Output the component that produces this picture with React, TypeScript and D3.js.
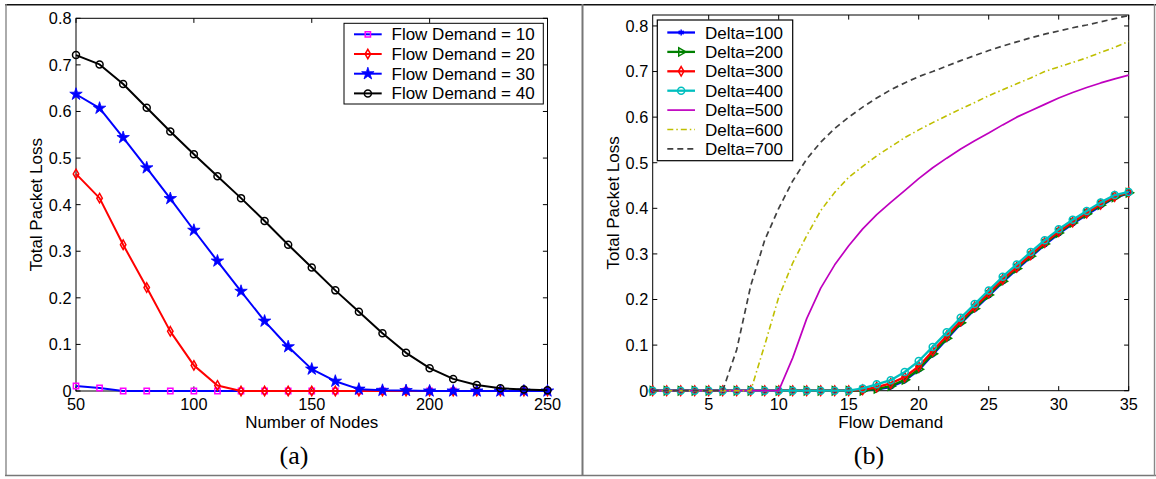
import React from "react";
import * as d3 from "d3";

// ---------- Data: panel (a) ----------
const nodes = [50, 60, 70, 80, 90, 100, 110, 120, 130, 140, 150, 160, 170, 180, 190, 200, 210, 220, 230, 240, 250];
const fd10 = [0.0107, 0.0064, 0, 0, 0, 0, 0, 0, 0, 0, 0, 0, 0, 0, 0, 0, 0, 0, 0, 0, 0];
const fd20 = [0.466, 0.414, 0.314, 0.222, 0.128, 0.055, 0.012, 0, 0, 0, 0, 0, 0, 0, 0, 0, 0, 0, 0, 0, 0];
const fd30 = [0.637, 0.607, 0.544, 0.479, 0.413, 0.345, 0.279, 0.214, 0.15, 0.095, 0.047, 0.021, 0.004, 0.0014, 0.001, 0, 0, 0, 0, 0, 0];
const fd40 = [0.721, 0.701, 0.659, 0.608, 0.557, 0.508, 0.461, 0.414, 0.365, 0.314, 0.265, 0.216, 0.17, 0.124, 0.082, 0.049, 0.026, 0.013, 0.006, 0.003, 0.0014];
const legendA = ["Flow Demand = 10", "Flow Demand = 20", "Flow Demand = 30", "Flow Demand = 40"];
const xTicksA = [50, 100, 150, 200, 250];
const yTicksA = [0, 0.1, 0.2, 0.3, 0.4, 0.5, 0.6, 0.7, 0.8];

// ---------- Data: panel (b) ----------
const flowDemand = [1, 2, 3, 4, 5, 6, 7, 8, 9, 10, 11, 12, 13, 14, 15, 16, 17, 18, 19, 20, 21, 22, 23, 24, 25, 26, 27, 28, 29, 30, 31, 32, 33, 34, 35];
const d100 = [0, 0, 0, 0, 0, 0, 0, 0, 0, 0, 0, 0, 0, 0, 0, 0, 0.003, 0.008, 0.022, 0.045, 0.079, 0.113, 0.147, 0.178, 0.208, 0.238, 0.266, 0.293, 0.32, 0.344, 0.366, 0.386, 0.405, 0.423, 0.433];
const d200 = [0, 0, 0, 0, 0, 0, 0, 0, 0, 0, 0, 0, 0, 0, 0, 0, 0.004, 0.01, 0.024, 0.047, 0.081, 0.115, 0.149, 0.18, 0.21, 0.24, 0.268, 0.295, 0.322, 0.346, 0.368, 0.388, 0.407, 0.424, 0.434];
const d300 = [0, 0, 0, 0, 0, 0, 0, 0, 0, 0, 0, 0, 0, 0, 0, 0.002, 0.008, 0.016, 0.03, 0.053, 0.087, 0.12, 0.153, 0.184, 0.214, 0.244, 0.271, 0.298, 0.325, 0.349, 0.37, 0.39, 0.409, 0.426, 0.435];
const d400 = [0, 0, 0, 0, 0, 0, 0, 0, 0, 0, 0, 0, 0, 0, 0, 0.005, 0.014, 0.023, 0.041, 0.065, 0.096, 0.128, 0.16, 0.19, 0.22, 0.25, 0.277, 0.304, 0.33, 0.354, 0.375, 0.394, 0.413, 0.429, 0.436];
const d500 = [0, 0, 0, 0, 0, 0, 0, 0, 0, 0, 0.072, 0.158, 0.225, 0.276, 0.318, 0.355, 0.386, 0.413, 0.439, 0.465, 0.489, 0.51, 0.53, 0.548, 0.565, 0.583, 0.6, 0.614, 0.628, 0.642, 0.654, 0.665, 0.675, 0.684, 0.692];
const d600 = [0, 0, 0, 0, 0, 0, 0, 0, 0.1, 0.205, 0.28, 0.34, 0.395, 0.435, 0.468, 0.492, 0.515, 0.535, 0.555, 0.572, 0.588, 0.603, 0.618, 0.632, 0.647, 0.66, 0.673, 0.686, 0.7, 0.71, 0.72, 0.73, 0.742, 0.753, 0.766];
const d700 = [0, 0, 0, 0, 0, 0, 0.09, 0.23, 0.33, 0.4, 0.46, 0.508, 0.545, 0.575, 0.6, 0.622, 0.642, 0.66, 0.675, 0.689, 0.7, 0.712, 0.724, 0.735, 0.746, 0.756, 0.765, 0.774, 0.782, 0.789, 0.796, 0.802, 0.809, 0.816, 0.823];
const legendB = ["Delta=100", "Delta=200", "Delta=300", "Delta=400", "Delta=500", "Delta=600", "Delta=700"];
const xTicksB = [5, 10, 15, 20, 25, 30, 35];
const yTicksB = [0, 0.1, 0.2, 0.3, 0.4, 0.5, 0.6, 0.7, 0.8];

const SANS = "'Liberation Sans', Arial, Helvetica, sans-serif";
const SERIF = "'Liberation Serif', 'Times New Roman', serif";
const TICK_FS = 16.3;
const LABEL_FS = 17;

type MarkerKind = "square" | "diamond" | "star" | "circle" | "asterisk" | "triangleRight" | "none";

function Marker({ kind, x, y, color }: { kind: MarkerKind; x: number; y: number; color: string }) {
  if (kind === "none") return null;
  if (kind === "circle") {
    return <circle cx={x} cy={y} r={3.5} fill="none" stroke={color} strokeWidth={1.5} />;
  }
  let path = "";
  let fill = "none";
  let sw = 1.5;
  let rot = 0;
  if (kind === "square") path = d3.symbol().type(d3.symbolSquare).size(28)() as string;
  if (kind === "diamond") path = d3.symbol().type(d3.symbolDiamond).size(26)() as string;
  if (kind === "star") {
    path = d3.symbol().type(d3.symbolStar).size(48)() as string;
    fill = color;
    sw = 0.8;
  }
  if (kind === "asterisk") path = d3.symbol().type(d3.symbolAsterisk).size(24)() as string;
  if (kind === "triangleRight") {
    path = d3.symbol().type(d3.symbolTriangle).size(30)() as string;
    rot = 90;
    sw = 1.5;
  }
  return (
    <path
      d={path}
      transform={`translate(${x},${y}) rotate(${rot})`}
      fill={fill}
      stroke={color}
      strokeWidth={sw}
    />
  );
}

function Frame({
  x0, x1, y0, y1, xs, ys, xTicks, yTicks, xFmt,
}: {
  x0: number; x1: number; y0: number; y1: number;
  xs: d3.ScaleLinear<number, number>; ys: d3.ScaleLinear<number, number>;
  xTicks: number[]; yTicks: number[]; xFmt: (v: number) => string;
}) {
  const tl = 4.6;
  return (
    <g>
      <rect x={x0} y={y0} width={x1 - x0} height={y1 - y0} fill="none" stroke="#000" strokeWidth={1} />
      {xTicks.map((t) => (
        <g key={"xt" + t}>
          <line x1={xs(t)} x2={xs(t)} y1={y1} y2={y1 - tl} stroke="#000" strokeWidth={1} />
          <line x1={xs(t)} x2={xs(t)} y1={y0} y2={y0 + tl} stroke="#000" strokeWidth={1} />
          <text x={xs(t)} y={y1 + 19.3} textAnchor="middle" fontFamily={SANS} fontSize={TICK_FS} fill="#000">
            {xFmt(t)}
          </text>
        </g>
      ))}
      {yTicks.map((t) => (
        <g key={"yt" + t}>
          <line x1={x0} x2={x0 + tl} y1={ys(t)} y2={ys(t)} stroke="#000" strokeWidth={1} />
          <line x1={x1} x2={x1 - tl} y1={ys(t)} y2={ys(t)} stroke="#000" strokeWidth={1} />
          <text x={x0 - 4.5} y={ys(t) + 5.9} textAnchor="end" fontFamily={SANS} fontSize={TICK_FS} fill="#000">
            {t === 0 ? "0" : d3.format(".1f")(t)}
          </text>
        </g>
      ))}
    </g>
  );
}

export default function App() {
  // Panel (a) scales
  const ax0 = 76, ax1 = 547.5, ay0 = 18.3, ay1 = 391;
  const xA = d3.scaleLinear().domain([50, 250]).range([ax0, ax1]);
  const yA = d3.scaleLinear().domain([0, 0.8]).range([ay1, ay0]);

  // Panel (b) scales
  const bx0 = 652.7, bx1 = 1128.7, by0 = 15, by1 = 390.7;
  const xB = d3.scaleLinear().domain([1, 35]).range([bx0, bx1]);
  const yB = d3.scaleLinear().domain([0, 0.824]).range([by1, by0]);

  const lineA = d3.line<number>().x((_, i) => xA(nodes[i])).y((d) => yA(d));
  const lineB = d3.line<number>().x((_, i) => xB(flowDemand[i])).y((d) => yB(d));

  const seriesA = [
    { data: fd10, line: "#0000ff", mk: "#ff00ff", kind: "square" as MarkerKind },
    { data: fd20, line: "#ff0000", mk: "#ff0000", kind: "diamond" as MarkerKind },
    { data: fd30, line: "#0000ff", mk: "#0000ff", kind: "star" as MarkerKind },
    { data: fd40, line: "#000000", mk: "#000000", kind: "circle" as MarkerKind },
  ];

  const seriesB = [
    { data: d100, color: "#0000ff", kind: "asterisk" as MarkerKind, w: 2.3, dash: "" },
    { data: d200, color: "#008000", kind: "triangleRight" as MarkerKind, w: 2.3, dash: "" },
    { data: d300, color: "#ff0000", kind: "diamond" as MarkerKind, w: 2.3, dash: "" },
    { data: d400, color: "#00bfbf", kind: "circle" as MarkerKind, w: 2.3, dash: "" },
    { data: d500, color: "#bf00bf", kind: "none" as MarkerKind, w: 1.7, dash: "" },
    { data: d600, color: "#bfbf00", kind: "none" as MarkerKind, w: 1.6, dash: "6,3,1.5,3" },
    { data: d700, color: "#404040", kind: "none" as MarkerKind, w: 1.7, dash: "6,4" },
  ];

  const legA = { x0: 344, x1: 543.3, y0: 23.3, y1: 104, row0: 34.3, dy: 19.7, lx0: 354, lx1: 381.7, tx: 391.5 };
  const legB = { x0: 657.3, x1: 792.7, y0: 20, y1: 160.7, row0: 32.5, dy: 19.4, lx0: 667.3, lx1: 695, tx: 705 };

  return (
    <svg
      width={1156}
      height={479}
      style={{ position: "absolute", left: 0, top: 0, background: "#fff" }}
    >
      <rect x={0} y={0} width={1156} height={479} fill="#fff" />
      {/* outer frame */}
      <line x1={5} x2={1156} y1={4.8} y2={4.8} stroke="#111" strokeWidth={1.6} />
      <line x1={6} x2={6} y1={4} y2={476} stroke="#888" strokeWidth={1.4} />
      <line x1={5} x2={1156} y1={475.5} y2={475.5} stroke="#777" strokeWidth={1.6} />
      <line x1={582.5} x2={582.5} y1={4} y2={476} stroke="#777" strokeWidth={2} />
      <line x1={1154.5} x2={1154.5} y1={4} y2={476} stroke="#888" strokeWidth={1.4} />

      {/* ---------- Panel (a) ---------- */}
      <Frame x0={ax0} x1={ax1} y0={ay0} y1={ay1} xs={xA} ys={yA} xTicks={xTicksA} yTicks={yTicksA} xFmt={(v) => String(v)} />
      {seriesA.map((s, si) => (
        <g key={"sa" + si}>
          <path d={lineA(s.data) as string} fill="none" stroke={s.line} strokeWidth={2} strokeLinejoin="round" />
          {s.data.map((v, i) => (
            <Marker key={i} kind={s.kind} x={xA(nodes[i])} y={yA(v)} color={s.mk} />
          ))}
        </g>
      ))}
      <text x={(ax0 + ax1) / 2} y={427.5} textAnchor="middle" fontFamily={SANS} fontSize={LABEL_FS}>Number of Nodes</text>
      <text transform={`translate(${ax0 - 34},${(ay0 + ay1) / 2}) rotate(-90)`} textAnchor="middle" fontFamily={SANS} fontSize={LABEL_FS}>Total Packet Loss</text>
      {/* legend (a) */}
      <rect x={legA.x0} y={legA.y0} width={legA.x1 - legA.x0} height={legA.y1 - legA.y0} fill="#fff" stroke="#000" strokeWidth={1} />
      {seriesA.map((s, i) => {
        const ry = legA.row0 + i * legA.dy;
        return (
          <g key={"la" + i}>
            <line x1={legA.lx0} x2={legA.lx1} y1={ry} y2={ry} stroke={s.line} strokeWidth={2} />
            <Marker kind={s.kind} x={(legA.lx0 + legA.lx1) / 2} y={ry} color={s.mk} />
            <text x={legA.tx} y={ry + 6} fontFamily={SANS} fontSize={LABEL_FS}>{legendA[i]}</text>
          </g>
        );
      })}
      <text x={294} y={464} textAnchor="middle" fontFamily={SERIF} fontSize={26}>(a)</text>

      {/* ---------- Panel (b) ---------- */}
      <Frame x0={bx0} x1={bx1} y0={by0} y1={by1} xs={xB} ys={yB} xTicks={xTicksB} yTicks={yTicksB} xFmt={(v) => String(v)} />
      {seriesB.map((s, si) => (
        <g key={"sb" + si}>
          <path
            d={lineB(s.data) as string}
            fill="none"
            stroke={s.color}
            strokeWidth={s.w}
            strokeDasharray={s.dash || undefined}
            strokeLinejoin="round"
          />
          {s.kind !== "none" &&
            s.data.map((v, i) => (
              <Marker key={i} kind={s.kind} x={xB(flowDemand[i])} y={yB(v)} color={s.color} />
            ))}
        </g>
      ))}
      <text x={(bx0 + bx1) / 2} y={427.5} textAnchor="middle" fontFamily={SANS} fontSize={LABEL_FS}>Flow Demand</text>
      <text transform={`translate(${bx0 - 34},${(by0 + by1) / 2}) rotate(-90)`} textAnchor="middle" fontFamily={SANS} fontSize={LABEL_FS}>Total Packet Loss</text>
      {/* legend (b) */}
      <rect x={legB.x0} y={legB.y0} width={legB.x1 - legB.x0} height={legB.y1 - legB.y0} fill="#fff" stroke="#000" strokeWidth={1.2} />
      {seriesB.map((s, i) => {
        const ry = legB.row0 + i * legB.dy;
        return (
          <g key={"lb" + i}>
            <line
              x1={legB.lx0}
              x2={legB.lx1}
              y1={ry}
              y2={ry}
              stroke={s.color}
              strokeWidth={s.w}
              strokeDasharray={s.dash || undefined}
            />
            <Marker kind={s.kind} x={(legB.lx0 + legB.lx1) / 2} y={ry} color={s.color} />
            <text x={legB.tx} y={ry + 6} fontFamily={SANS} fontSize={LABEL_FS}>{legendB[i]}</text>
          </g>
        );
      })}
      <text x={869} y={464} textAnchor="middle" fontFamily={SERIF} fontSize={26}>(b)</text>
    </svg>
  );
}
